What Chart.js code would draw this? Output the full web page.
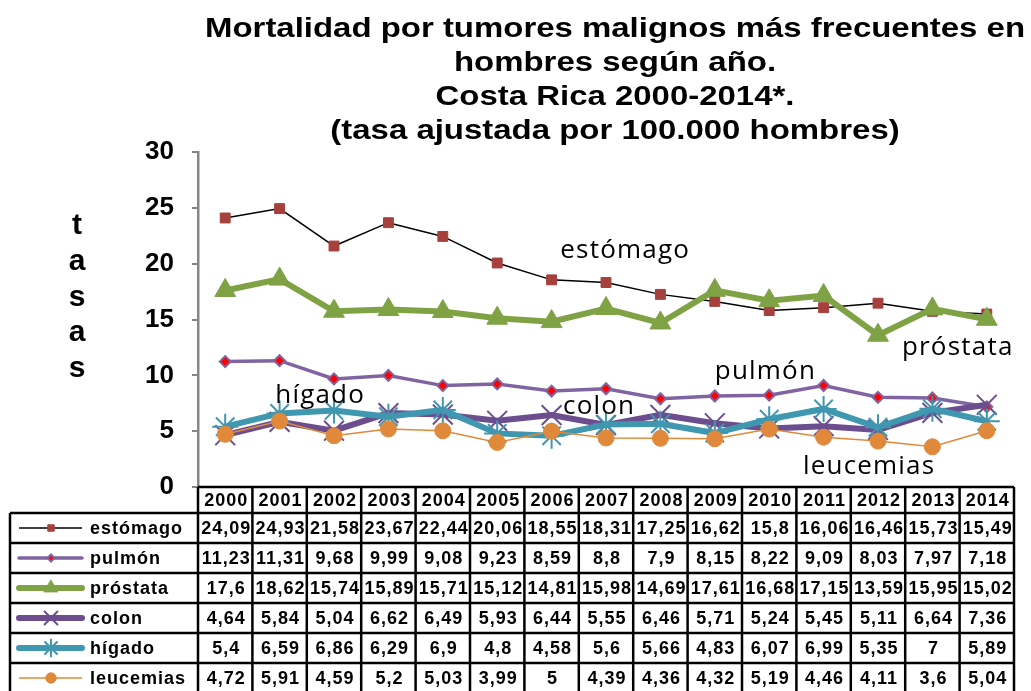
<!DOCTYPE html>
<html lang="es">
<head>
  <meta charset="UTF-8" />
  <title>Mortalidad por tumores malignos - Costa Rica</title>
  <style>
    body { margin: 0; background: #fff; }
    #wrap { width: 1031px; height: 691px; }
  </style>
</head>
<body>
  <div id="wrap"><canvas id="chart" width="1031" height="691"></canvas></div>

  <script src="https://cdn.jsdelivr.net/npm/chart.js"></script>
  <script>
    // data
    const years = ['2000', '2001', '2002', '2003', '2004', '2005', '2006', '2007',
                   '2008', '2009', '2010', '2011', '2012', '2013', '2014'];
    const estomago  = [24.09, 24.93, 21.58, 23.67, 22.44, 20.06, 18.55, 18.31, 17.25, 16.62, 15.8, 16.06, 16.46, 15.73, 15.49];
    const pulmon    = [11.23, 11.31, 9.68, 9.99, 9.08, 9.23, 8.59, 8.8, 7.9, 8.15, 8.22, 9.09, 8.03, 7.97, 7.18];
    const prostata  = [17.6, 18.62, 15.74, 15.89, 15.71, 15.12, 14.81, 15.98, 14.69, 17.61, 16.68, 17.15, 13.59, 15.95, 15.02];
    const colon     = [4.64, 5.84, 5.04, 6.62, 6.49, 5.93, 6.44, 5.55, 6.46, 5.71, 5.24, 5.45, 5.11, 6.64, 7.36];
    const higado    = [5.4, 6.59, 6.86, 6.29, 6.9, 4.8, 4.58, 5.6, 5.66, 4.83, 6.07, 6.99, 5.35, 7, 5.89];
    const leucemias = [4.72, 5.91, 4.59, 5.2, 5.03, 3.99, 5, 4.39, 4.36, 4.32, 5.19, 4.46, 4.11, 3.6, 5.04];
    const yTicks = [0, 5, 10, 15, 20, 25, 30];

    const titleLines = [
      'Mortalidad por tumores malignos más frecuentes en',
      'hombres según año.',
      'Costa Rica 2000-2014*.',
      '(tasa ajustada por 100.000 hombres)'
    ];

    // labels written inside the plot, placed in data units (category index, value)
    const seriesNotes = [
      { text: 'estómago',  at: 6.16,  value: 21.2 },
      { text: 'próstata',  at: 12.44, value: 12.5 },
      { text: 'pulmón',    at: 9.0,   value: 10.3 },
      { text: 'hígado',    at: 0.92,  value: 8.2 },
      { text: 'colon',     at: 6.21,  value: 7.2 },
      { text: 'leucemias', at: 10.62, value: 1.8 }
    ];

    const fmt = v => String(v).replace('.', ',');

    const titlePlugin = {
      id: 'titleAndAxisLabel',
      afterDraw(chart) {
        const ctx = chart.ctx;
        ctx.save();
        ctx.fillStyle = '#000';
        ctx.textBaseline = 'middle';
        ctx.textAlign = 'center';
        ctx.font = 'bold 28px "Liberation Sans", Arial, sans-serif';
        // fit the first line to the width it has in the original
        const sx = 820 / ctx.measureText(titleLines[0]).width;
        titleLines.forEach((line, i) => {
          ctx.save();
          ctx.translate(615, 29 + i * 34);
          ctx.scale(sx, 1);
          ctx.fillText(line, 0, 0);
          ctx.restore();
        });

        // vertical stacked axis title
        ctx.font = 'bold 30px "Liberation Sans", Arial, sans-serif';
        ctx.textBaseline = 'alphabetic';
        'tasas'.split('').forEach((ch, i) => {
          ctx.fillText(ch, 77, 234 + i * 35.8);
        });
        ctx.restore();
      }
    };

    const notesPlugin = {
      id: 'seriesNotes',
      afterDatasetsDraw(chart) {
        const { ctx, scales: { x, y } } = chart;
        ctx.save();
        ctx.fillStyle = '#000';
        ctx.font = '26px "Open Sans", "Noto Sans", sans-serif';
        ctx.letterSpacing = '1.2px';
        ctx.textAlign = 'left';
        ctx.textBaseline = 'middle';
        seriesNotes.forEach(n => {
          ctx.fillText(n.text, x.getPixelForValue(n.at), y.getPixelForValue(n.value));
        });
        ctx.restore();
      }
    };

    const tablePlugin = {
      id: 'dataTable',
      afterDraw(chart) {
        const { ctx, chartArea, scales: { x } } = chart;
        const colW = x.getPixelForValue(1) - x.getPixelForValue(0);
        const left = chartArea.left;
        const right = left + colW * years.length;
        const top = chartArea.bottom;
        const bottom = chart.height + 5;
        const headH = 26, rowH = 30, legLeft = 10;

        ctx.save();
        ctx.fillStyle = '#000';
        ctx.textAlign = 'center';
        ctx.textBaseline = 'middle';
        ctx.font = 'bold 18px "Liberation Sans", Arial, sans-serif';
        ctx.letterSpacing = '1px';

        years.forEach((yr, i) => ctx.fillText(yr, x.getPixelForValue(i) + 1, top + headH / 2 + 1));

        chart.data.datasets.forEach((ds, r) => {
          const cy = top + headH + r * rowH + rowH / 2 + 1;
          ds.data.forEach((v, i) => ctx.fillText(fmt(v), x.getPixelForValue(i) + 1, cy));

          // legend key: line sample + marker + name
          ctx.save();
          ctx.strokeStyle = ds.borderColor;
          ctx.lineWidth = ds.borderWidth;
          ctx.lineCap = ds.borderWidth > 3 ? 'round' : 'butt';
          ctx.beginPath();
          ctx.moveTo(19, cy - 1);
          ctx.lineTo(82, cy - 1);
          ctx.stroke();
          ctx.fillStyle = ds.pointBackgroundColor;
          ctx.strokeStyle = ds.pointBorderColor;
          ctx.lineWidth = ds.pointBorderWidth;
          Chart.helpers.drawPoint(ctx, {
            pointStyle: ds.pointStyle,
            radius: ds.pointRadius * 0.65,
            rotation: 0,
            borderWidth: ds.pointBorderWidth
          }, 51, cy - 1);
          ctx.restore();

          ctx.textAlign = 'left';
          ctx.fillText(ds.label, 90, cy);
          ctx.textAlign = 'center';
        });

        ctx.strokeStyle = '#000';
        ctx.lineWidth = 2.5;
        ctx.beginPath();
        ctx.moveTo(left, top);
        ctx.lineTo(right, top);
        for (let r = 0; r <= chart.data.datasets.length; r++) {
          const yy = top + headH + r * rowH;
          ctx.moveTo(legLeft, yy);
          ctx.lineTo(right, yy);
        }
        for (let i = 0; i <= years.length; i++) {
          const xx = left + i * colW;
          ctx.moveTo(xx, top);
          ctx.lineTo(xx, bottom);
        }
        ctx.moveTo(legLeft, top + headH);
        ctx.lineTo(legLeft, bottom);
        ctx.stroke();
        ctx.restore();
      }
    };

    function series(label, data, color, width, style, radius, extra) {
      return Object.assign({
        label: label,
        data: data,
        borderColor: color,
        borderWidth: width,
        pointStyle: style,
        pointRadius: radius,
        pointHoverRadius: radius,
        pointBackgroundColor: color,
        pointBorderColor: color,
        pointBorderWidth: 1,
        tension: 0,
        fill: false
      }, extra || {});
    }

    new Chart(document.getElementById('chart'), {
      type: 'line',
      data: {
        labels: years,
        datasets: [
          series('estómago', estomago, '#000000', 1.5, 'rect', 7,
                 { pointBackgroundColor: '#A5403D', pointBorderColor: '#A5403D', order: 6 }),
          series('pulmón', pulmon, '#8064A2', 3.5, 'rectRot', 5.5,
                 { pointBackgroundColor: '#FF0000', pointBorderColor: '#8064A2', pointBorderWidth: 2, order: 5 }),
          series('próstata', prostata, '#7FA244', 6, 'triangle', 12,
                 { order: 4 }),
          series('colon', colon, '#6C4E8E', 6, 'crossRot', 14,
                 { pointBorderWidth: 2, order: 3 }),
          series('hígado', higado, '#3F97B0', 6, 'star', 13,
                 { pointBorderWidth: 2, order: 2 }),
          series('leucemias', leucemias, '#E0893A', 1.5, 'circle', 8,
                 { order: 1 })
        ]
      },
      options: {
        responsive: false,
        animation: false,
        layout: { padding: { top: 152, bottom: 204, left: 0, right: 17 } },
        plugins: {
          legend: { display: false },
          title: { display: false },
          tooltip: { enabled: false }
        },
        scales: {
          x: {
            type: 'category',
            display: false,
            offset: true
          },
          y: {
            min: 0,
            max: 30,
            afterFit(scale) { scale.width = 198; },
            afterBuildTicks(scale) { scale.ticks = yTicks.map(v => ({ value: v })); },
            border: { display: true, color: '#868686', width: 2.5 },
            grid: {
              drawOnChartArea: false,
              drawTicks: true,
              tickLength: 6,
              color: '#868686',
              lineWidth: 2
            },
            ticks: {
              padding: 18,
              color: '#000',
              font: { family: '"Liberation Sans", Arial, sans-serif', size: 26, weight: 'bold' }
            }
          }
        }
      },
      plugins: [titlePlugin, notesPlugin, tablePlugin]
    });
  </script>
</body>
</html>
